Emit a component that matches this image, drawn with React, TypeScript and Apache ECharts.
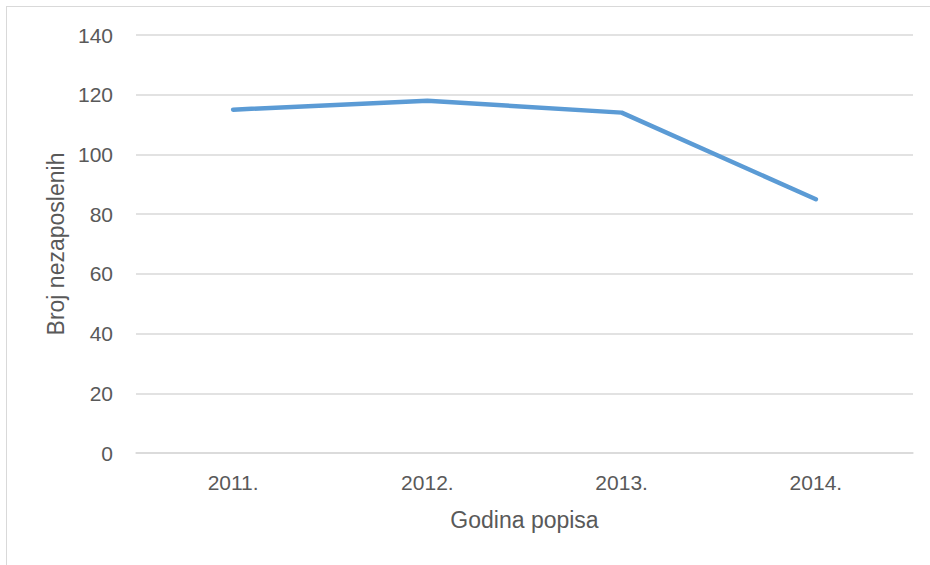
import React, { useEffect, useRef } from "react";
import * as echarts from "echarts";

const categories = ["2011.", "2012.", "2013.", "2014."];
const values = [115, 118, 114, 85];
const yTicks = { min: 0, max: 140, interval: 20 };
const xTitle = "Godina popisa";
const yTitle = "Broj nezaposlenih";

export default function App() {
  const ref = useRef<HTMLDivElement>(null);
  useEffect(() => {
    if (!ref.current) return;
    const chart = echarts.init(ref.current, undefined, { renderer: "svg" });
    const font = "'Liberation Sans', Arial, sans-serif";
    chart.setOption({
      animation: false,
      backgroundColor: "#ffffff",
      grid: { left: 129, top: 28, width: 777, height: 418, containLabel: false },
      xAxis: {
        type: "category",
        data: categories,
        boundaryGap: true,
        name: xTitle,
        nameLocation: "middle",
        nameGap: 55,
        nameTextStyle: { color: "#595959", fontSize: 23, fontFamily: font },
        axisLine: { show: true, lineStyle: { color: "#d9d9d9", width: 1.5 } },
        axisTick: { show: false },
        axisLabel: { color: "#595959", fontSize: 21, fontFamily: font, margin: 19 },
      },
      yAxis: {
        type: "value",
        min: yTicks.min,
        max: yTicks.max,
        interval: yTicks.interval,
        name: yTitle,
        nameLocation: "middle",
        nameGap: 64,
        nameTextStyle: { color: "#595959", fontSize: 23, fontFamily: font },
        axisLine: { show: false },
        axisTick: { show: false },
        axisLabel: { color: "#595959", fontSize: 21, fontFamily: font, margin: 23 },
        splitLine: { show: true, lineStyle: { color: "#d9d9d9", width: 1.5 } },
      },
      series: [
        {
          type: "line",
          data: values,
          showSymbol: false,
          symbol: "none",
          lineStyle: { color: "#5b9bd5", width: 4.5, cap: "round", join: "round" },
          itemStyle: { color: "#5b9bd5" },
        },
      ],
    });
    return () => chart.dispose();
  }, []);
  return (
    <div style={{ position: "fixed", left: 0, top: 0, width: 930, height: 565, overflow: "hidden", background: "#fff" }}>
      <div
        style={{
          position: "absolute",
          left: 6,
          top: 6,
          width: 940,
          height: 580,
          border: "1.5px solid #d9d9d9",
          boxSizing: "border-box",
        }}
      >
        <div ref={ref} style={{ position: "absolute", left: 0, top: 0, width: 930, height: 560 }} />
      </div>
    </div>
  );
}
